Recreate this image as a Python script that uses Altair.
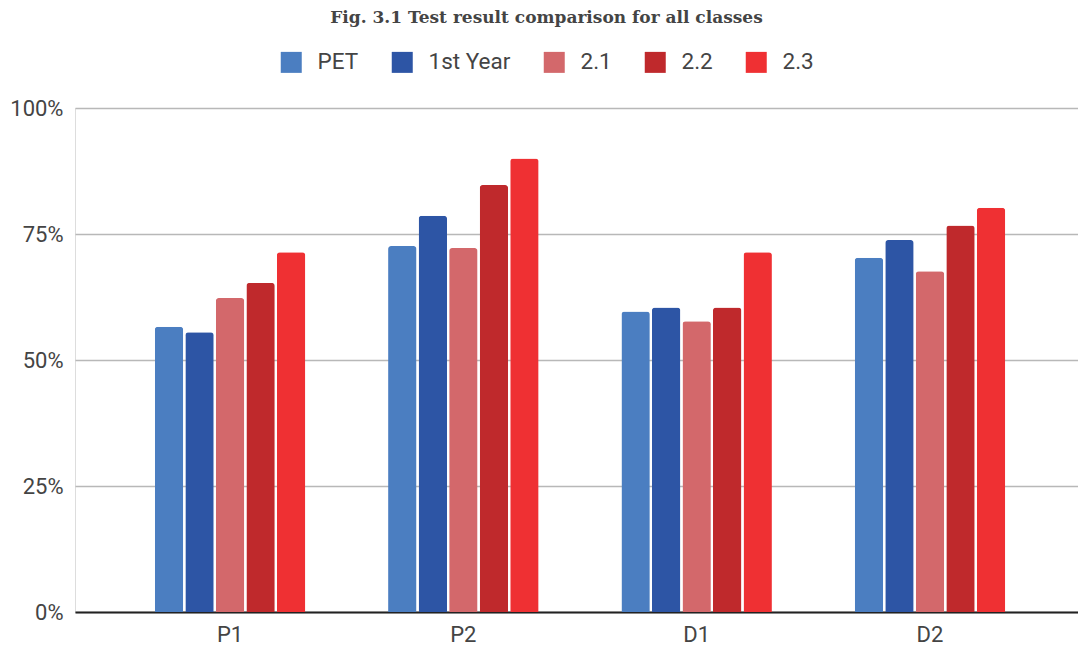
import altair as alt
import pandas as pd

groups = ["P1", "P2", "D1", "D2"]
series = ["PET", "1st Year", "2.1", "2.2", "2.3"]
colors = ["#4b7ec1", "#2d55a5", "#d3686b", "#bf292c", "#ef3033"]

pet = [0.566, 0.726, 0.596, 0.703]
first_year = [0.555, 0.786, 0.604, 0.738]
s21 = [0.623, 0.722, 0.577, 0.676]
s22 = [0.653, 0.847, 0.604, 0.767]
s23 = [0.714, 0.900, 0.714, 0.802]

values = [pet, first_year, s21, s22, s23]
rows = []
for s, vals in zip(series, values):
    for g, v in zip(groups, vals):
        rows.append({"group": g, "series": s, "value": v})
df = pd.DataFrame(rows)

font = "Roboto"

chart = alt.Chart(df).mark_bar(
    cornerRadiusTopLeft=3, cornerRadiusTopRight=3
).encode(
    x=alt.X("group:N", sort=groups, title=None,
            scale=alt.Scale(paddingInner=0.355, paddingOuter=0.342, range=[0, 1010]),
            axis=alt.Axis(labelAngle=0, labelFont=font, labelFontSize=22,
                          labelColor="#444", labelPadding=12, ticks=False,
                          domain=True, domainColor="#222", domainWidth=2)),
    xOffset=alt.XOffset("series:N", sort=series,
                        scale=alt.Scale(paddingInner=0.07, paddingOuter=0)),
    y=alt.Y("value:Q", title=None,
            scale=alt.Scale(domain=[0, 1]),
            axis=alt.Axis(values=[0, 0.25, 0.5, 0.75, 1], format=".0%",
                          labelFont=font, labelFontSize=22, labelColor="#444",
                          labelPadding=12, ticks=False, domain=False,
                          grid=True, gridColor="#b8b8b8", gridWidth=1.5)),
    color=alt.Color("series:N", sort=series,
                    scale=alt.Scale(domain=series, range=colors),
                    legend=alt.Legend(
                        title=None, orient="none", direction="horizontal",
                        legendX=205, legendY=-57, columns=5,
                        symbolType="square", symbolSize=441,
                        symbolStrokeWidth=0, labelFont=font,
                        labelFontSize=22.5, labelColor="#444",
                        labelOffset=15, columnPadding=32)),
).properties(
    width=1003,
    height=504,
    title=alt.TitleParams(
        "Fig. 3.1 Test result comparison for all classes",
        font="DejaVu Serif", fontSize=17, fontWeight="bold",
        color="#444", anchor="middle", dx=-30, offset=24),
    padding={"left": 75, "top": 108, "right": 0, "bottom": 36},
    autosize=alt.AutoSizeParams(type="none"),
).configure_view(stroke=None).configure(background="white")

chart.save("out.html", embed_options={"renderer": "svg", "actions": False})
